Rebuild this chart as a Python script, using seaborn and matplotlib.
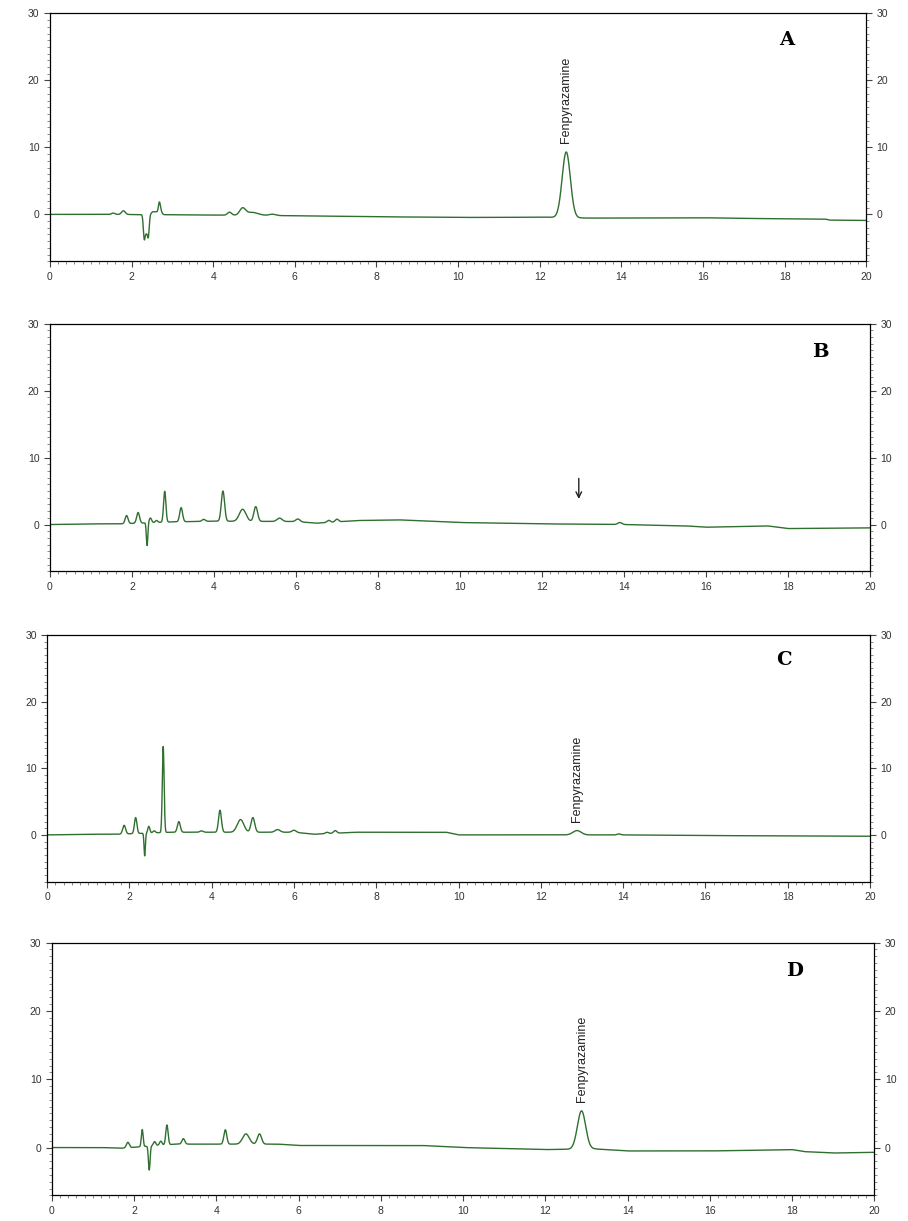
import numpy as np
import pandas as pd
import matplotlib
matplotlib.use("Agg")
import matplotlib.pyplot as plt
from matplotlib.ticker import MultipleLocator
import seaborn as sns

# ---------------- data ----------------
# baseline anchor points (time in min, signal)
A_base_t = [0, 1.5, 3, 6, 8, 10, 11, 12, 13.2, 16, 17, 19, 19.1, 20]
A_base_y = [0, 0, -0.05, -0.2, -0.35, -0.45, -0.45, -0.4, -0.55, -0.5, -0.6, -0.7, -0.85, -0.9]
# peaks: retention time, height above baseline, width (sigma)
A_peak_t = [1.55, 1.8, 2.31, 2.36, 2.41, 2.52, 2.6, 2.68, 2.72, 4.4, 4.72, 4.95, 5.45, 12.65]
A_peak_h = [0.2, 0.55, -3.4, -2.4, -3.1, 0.4, 0.4, 1.7, 0.4, 0.45, 1.0, 0.45, 0.2, 9.8]
A_peak_w = [0.04, 0.045, 0.022, 0.025, 0.022, 0.035, 0.035, 0.025, 0.03, 0.05, 0.07, 0.15, 0.08, 0.1]

B_base_t = [0, 1.0, 1.7, 3, 4, 6, 6.5, 7.5, 8.5, 10, 12, 14, 15.5, 16, 17.5, 18, 20]
B_base_y = [0, 0.1, 0.1, 0.4, 0.5, 0.45, 0.2, 0.6, 0.7, 0.3, 0.1, 0, -0.2, -0.4, -0.2, -0.6, -0.5]
B_peak_t = [1.87, 2.15, 2.37, 2.45, 2.6, 2.8, 3.2, 3.75, 4.22, 4.7, 5.02, 5.6, 6.05, 6.8, 7.0, 13.9]
B_peak_h = [1.2, 1.6, -3.4, 0.7, 0.3, 4.6, 2.1, 0.3, 4.5, 1.8, 2.2, 0.5, 0.4, 0.3, 0.4, 0.3]
B_peak_w = [0.035, 0.035, 0.018, 0.03, 0.03, 0.028, 0.035, 0.04, 0.04, 0.08, 0.045, 0.06, 0.05, 0.04, 0.04, 0.05]

C_base_t = [0, 1, 1.7, 3, 4, 6, 6.5, 7.5, 8.5, 9.7, 10, 14, 16, 20]
C_base_y = [0, 0.1, 0.1, 0.4, 0.4, 0.4, 0.1, 0.4, 0.4, 0.4, 0, 0, -0.1, -0.2]
C_peak_t = [1.87, 2.15, 2.37, 2.47, 2.6, 2.82, 3.2, 3.75, 4.2, 4.7, 5.0, 5.6, 6.0, 6.8, 7.0, 12.88, 13.9]
C_peak_h = [1.3, 2.4, -3.4, 1.0, 0.3, 12.9, 1.6, 0.2, 3.3, 1.9, 2.2, 0.4, 0.3, 0.2, 0.4, 0.65, 0.15]
C_peak_w = [0.035, 0.03, 0.016, 0.025, 0.03, 0.022, 0.035, 0.04, 0.035, 0.08, 0.045, 0.06, 0.05, 0.04, 0.04, 0.1, 0.04]

D_base_t = [0, 1.2, 1.7, 3, 5.5, 6, 9, 10, 12, 13.2, 14, 16, 18, 18.3, 19, 20]
D_base_y = [0, 0, -0.1, 0.5, 0.5, 0.3, 0.3, 0, -0.3, -0.2, -0.5, -0.5, -0.3, -0.6, -0.8, -0.7]
D_peak_t = [1.85, 2.2, 2.37, 2.5, 2.65, 2.8, 3.2, 4.22, 4.72, 5.05, 12.88]
D_peak_h = [0.8, 2.5, -3.5, 0.6, 0.6, 2.9, 0.8, 2.1, 1.5, 1.5, 5.6]
D_peak_w = [0.035, 0.022, 0.02, 0.03, 0.03, 0.028, 0.035, 0.035, 0.08, 0.05, 0.1]

panel_labels = ["A", "B", "C", "D"]
compound = "Fenpyrazamine"
label_panels = {"A": 12.65, "C": 12.88, "D": 12.88}
arrow_panel_time = 12.9   # arrow in panel B

x_ticks = [0, 2, 4, 6, 8, 10, 12, 14, 16, 18, 20]
y_ticks = [0, 10, 20, 30]

panels = {
    "A": (A_base_t, A_base_y, A_peak_t, A_peak_h, A_peak_w),
    "B": (B_base_t, B_base_y, B_peak_t, B_peak_h, B_peak_w),
    "C": (C_base_t, C_base_y, C_peak_t, C_peak_h, C_peak_w),
    "D": (D_base_t, D_base_y, D_peak_t, D_peak_h, D_peak_w),
}

# axes rectangles [left, bottom, width, height] in figure fractions
rects = {
    "A": [0.055, 0.786, 0.899, 0.203],
    "B": [0.055, 0.532, 0.903, 0.203],
    "C": [0.052, 0.278, 0.906, 0.202],
    "D": [0.057, 0.021, 0.906, 0.207],
}
letter_pos = {"A": (18.05, 26), "B": (18.8, 25.8), "C": (17.9, 26.2), "D": (18.05, 25.8)}

sns.set_style("white")
plt.rcParams["font.family"] = ["Liberation Sans", "DejaVu Sans"]

fig = plt.figure(figsize=(9.08, 12.21), dpi=100)
t = np.linspace(0, 20, 4001)
line_color = "#2f6f2f"

for name in panel_labels:
    bt, by, pt, ph, pw = panels[name]
    sig = np.interp(t, bt, by)
    for c, h, w in zip(pt, ph, pw):
        sig = sig + h * np.exp(-0.5 * ((t - c) / w) ** 2)
    df = pd.DataFrame({"time": t, "signal": sig})
    ax = fig.add_axes(rects[name])
    sns.lineplot(data=df, x="time", y="signal", ax=ax, color=line_color,
                 linewidth=1.0, estimator=None, sort=False)
    ax.set_xlim(0, 20)
    ax.set_ylim(-7, 30)
    ax.set_xlabel("")
    ax.set_ylabel("")
    ax.set_xticks(x_ticks)
    ax.set_yticks(y_ticks)
    ax.xaxis.set_minor_locator(MultipleLocator(0.2))
    ax.yaxis.set_minor_locator(MultipleLocator(1))
    ax.tick_params(axis="both", which="major", direction="out", length=4,
                   width=0.8, color="#444444", labelsize=7.5, labelcolor="#333333")
    ax.tick_params(axis="both", which="minor", direction="out", length=2,
                   width=0.6, color="#777777")
    ax.tick_params(axis="y", which="both", left=True, right=True,
                   labelleft=True, labelright=True)
    ax.tick_params(axis="x", which="both", bottom=True, top=False)
    for s in ax.spines.values():
        s.set_visible(True)
        s.set_color("black")
        s.set_linewidth(0.9)

    lx, ly = letter_pos[name]
    ax.text(lx, ly, name, fontsize=14, fontweight="bold", family=["DejaVu Serif"],
            ha="center", va="center", color="black")

    if name in label_panels:
        x0 = label_panels[name]
        ypk = np.interp(x0, t, sig)
        ax.text(x0, ypk + 1.3, compound, rotation=90, fontsize=9,
                family=["Liberation Sans Narrow", "Liberation Sans", "DejaVu Sans"],
                ha="center", va="bottom", color="#222222")
    if name == "B":
        ax.annotate("", xy=(arrow_panel_time, 3.4), xytext=(arrow_panel_time, 7.3),
                    arrowprops=dict(arrowstyle="->", color="#222222", lw=1.0))

fig.savefig("out.png", dpi=100)
